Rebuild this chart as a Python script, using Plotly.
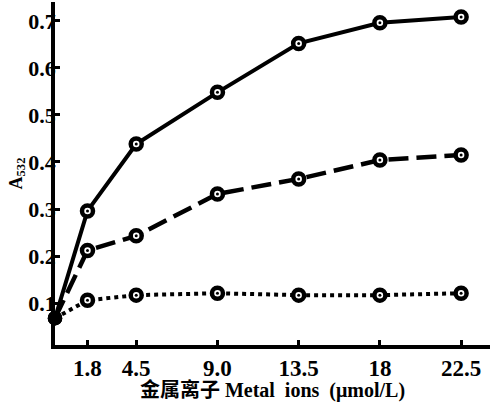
import plotly.graph_objects as go

x_conc = [0, 1.8, 4.5, 9.0, 13.5, 18, 22.5]
tick_vals = [1.8, 4.5, 9.0, 13.5, 18, 22.5]
tick_text = ["1.8", "4.5", "9.0", "13.5", "18", "22.5"]
y_ticks = [0.1, 0.2, 0.3, 0.4, 0.5, 0.6, 0.7]

series_solid = [0.068, 0.296, 0.438, 0.548, 0.652, 0.696, 0.708]
series_dash = [0.068, 0.212, 0.243, 0.332, 0.364, 0.404, 0.415]
series_dot = [0.068, 0.106, 0.117, 0.121, 0.117, 0.117, 0.121]

fig = go.Figure()

def add(y, dash, width):
    fig.add_trace(go.Scatter(
        x=x_conc, y=y, mode="lines+markers",
        line=dict(color="#000000", width=width, dash=dash),
        marker=dict(symbol="circle", size=[10] + [11] * 6, opacity=1,
                    color=["#000000"] + ["#ffffff"] * 6,
                    line=dict(color="#000000", width=4.5)),
        showlegend=False, cliponaxis=False))
    fig.add_trace(go.Scatter(
        x=x_conc[1:], y=y[1:], mode="markers",
        marker=dict(symbol="circle", size=3, color="#000000"),
        showlegend=False, cliponaxis=False))

add(series_solid, "solid", 4)
add(series_dash, "20px,8px", 4.5)
add(series_dot, "4px,4px", 4)

fig.update_layout(
    width=492, height=402,
    margin=dict(l=55, r=2, t=2, b=57),
    paper_bgcolor="white", plot_bgcolor="white",
    font=dict(family="Liberation Serif", size=15, color="#000000"),
    xaxis=dict(range=[0, 24.1], tickvals=tick_vals,
               ticktext=["<b>%s</b>" % t for t in tick_text],
               showline=True, linecolor="#000000", linewidth=3.5,
               ticks="inside", ticklen=5, tickwidth=3, tickcolor="#000000",
               showgrid=False, zeroline=False,
               tickfont=dict(family="Liberation Serif", size=23, color="#000000"),
               title=dict(text="<b>金属离子 Metal  ions  (μmol/L)</b>",
                          font=dict(family="Liberation Serif, Noto Sans CJK SC",
                                    size=20, color="#000000"),
                          standoff=0)),
    yaxis=dict(range=[0.011, 0.74], tickvals=y_ticks,
               ticktext=["<b>%.1f</b>" % v for v in y_ticks],
               showline=True, linecolor="#000000", linewidth=3.5,
               ticks="inside", ticklen=5, tickwidth=3, tickcolor="#000000",
               showgrid=False, zeroline=False,
               tickfont=dict(family="Liberation Serif", size=22, color="#000000"),
               ticklabelstandoff=-9,
               title=dict(text="<b>A<sub>532</sub></b>",
                          font=dict(family="Liberation Serif", size=18,
                                    color="#000000"),
                          standoff=0)),
)
fig.write_html("out.html")
